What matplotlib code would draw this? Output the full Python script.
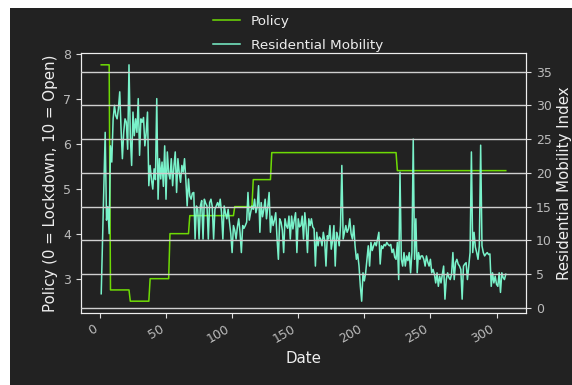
import matplotlib
matplotlib.use('agg')
import matplotlib.pyplot as plt
import numpy as np
from matplotlib.patches import Rectangle

BG = '#222222'

# policy is a step series: (first day of level, level)
policy_change_days = [1, 8, 23, 38, 53, 68, 102, 116, 130, 225]
policy_levels = [7.75, 2.75, 2.5, 3.0, 4.0, 4.4, 4.6, 5.2, 5.8, 5.4]
last_day = 307

# residential mobility index, one value per day (days 1..307)
mobility = [
    2.1, 10, 18, 26, 13, 15, 11, 24, 21.6, 28,
    30, 28.5, 28, 29.5, 32, 26.5, 22.1, 26, 28, 27.5,
    23.5, 36, 25.5, 21.1, 29, 25.5, 28, 26, 31, 22.6,
    28, 27.5, 28.2, 24, 26, 29, 18.1, 21.1, 19, 17.6,
    20.6, 19, 31, 16.1, 22.1, 19.1, 21.6, 18, 24, 16.1,
    23.1, 20, 19.1, 22.1, 18.1, 21, 23.1, 17.1, 22.1, 20,
    18.6, 21.1, 20.1, 22.1, 19, 15.1, 19.1, 16.6, 16.1, 17,
    17.1, 10.2, 15.1, 14.6, 10.2, 15.1, 15.9, 10.2, 16.1, 15.5,
    15.1, 10.2, 15.6, 16.1, 15, 10.2, 14.6, 15.1, 15.6, 15,
    16.1, 14.1, 10.2, 15.1, 14, 13.2, 14.6, 12.7, 11, 8.2,
    12.2, 11.5, 10.2, 12, 13.2, 11.2, 8.2, 12.2, 11.8, 12.2,
    12.7, 17.1, 13, 14.1, 15.1, 14.6, 16.1, 14.1, 15, 18.1,
    11.2, 15.6, 13.5, 14.6, 16.1, 13.2, 15, 17.1, 11.2, 13.6,
    12.2, 13, 14.1, 10.2, 7.2, 13.2, 12.7, 11.5, 8.2, 13.2,
    12.2, 11.8, 13.6, 10.2, 13.6, 11.7, 13, 14.1, 8.2, 13.2,
    12, 12.2, 13.6, 10.2, 14.1, 12, 8.2, 13.2, 12.2, 13.2,
    12, 11.7, 6.2, 11.2, 9.2, 10.5, 10.2, 9.2, 11.2, 10,
    6.2, 10.7, 10.2, 12.2, 8.7, 10, 12.2, 6.2, 11.2, 10.5,
    9.2, 12.2, 21.1, 10.2, 11.2, 12.2, 11.2, 11.7, 13.2, 11,
    10.2, 12.2, 9.2, 7.2, 8, 6.2, 3.2, 1.0, 5.2, 4,
    5.2, 7.2, 9.2, 6.2, 9.7, 8.5, 9.2, 9.7, 9.2, 10.2,
    11.2, 6.5, 9.2, 8.8, 9.4, 9.2, 9.7, 9.4, 9.2, 9.4,
    8.2, 8.7, 7.5, 7.2, 9.7, 4.2, 20.1, 7.2, 6.2, 8.2,
    6.2, 7.7, 7, 8.2, 5.2, 8.2, 25.0, 7.2, 13.2, 5.2,
    8.2, 7.2, 7.7, 7.7, 7.2, 6.2, 7.7, 6.8, 6.2, 7.2,
    5.2, 5.7, 5, 3.7, 5.2, 3.2, 4.7, 3.7, 5, 6.2,
    1.3, 4.2, 5.2, 4.5, 4.2, 5, 8.2, 4.2, 6.7, 7.2,
    6.5, 6.2, 5.7, 1.3, 6.2, 6.5, 6.7, 4.2, 6.2, 8.2,
    23.1, 8.2, 11.2, 9, 8.2, 7.2, 9.2, 24.1, 9.2, 8.2,
    7.7, 8, 8.2, 7.9, 8, 3.2, 5.2, 3.7, 4.7, 3.5,
    3.2, 5.2, 2.3, 5.2, 4.5, 4.2, 5.0,
]

days = np.arange(1, len(mobility) + 1)
durations = np.diff(policy_change_days + [last_day + 1])
policy = np.repeat(policy_levels, durations)

fig = plt.figure(figsize=(5.72, 3.85), dpi=100)
fig.patch.set_facecolor('white')
# dark panel (the original has a thin white strip on top and left)
fig.patches.append(Rectangle((10 / 572, 0), 562 / 572, 377 / 385,
                             transform=fig.transFigure, facecolor=BG,
                             edgecolor='none', zorder=-1))

ax1 = fig.add_axes([81 / 572, 72 / 385, 445 / 572, 260 / 385])
ax1.set_facecolor(BG)
ax2 = ax1.twinx()

l1, = ax1.plot(days, policy, color='lawngreen', alpha=0.85, lw=1.1, label='Policy')
l2, = ax2.plot(days, mobility, color='aquamarine', alpha=0.95, lw=1.1,
               label='Residential Mobility')

ax2.grid(True, axis='y', color='#d0d0d0', lw=1)
ax2.set_axisbelow(False)

ax1.set_xticks([0, 50, 100, 150, 200, 250, 300])
ax1.set_yticks([3, 4, 5, 6, 7, 8])
ax2.set_yticks([0, 5, 10, 15, 20, 25, 30, 35])

for ax in (ax1, ax2):
    for sp in ax.spines.values():
        sp.set_color('#eeeeee')
    ax.tick_params(color='#dddddd', labelcolor='#bbbbbb', labelsize=9)

plt.setp(ax1.get_xticklabels(), rotation=30, ha='right')

ax1.set_xlabel('Date', color='#eeeeee', fontsize=10.8)
ax1.set_ylabel('Policy (0 = Lockdown, 10 = Open)', color='#eeeeee', fontsize=10.8)
ax2.set_ylabel('Residential Mobility Index', color='#eeeeee', fontsize=10.8)

fig.legend([l1, l2], ['Policy', 'Residential Mobility'], loc='lower center',
           bbox_to_anchor=(298 / 572, 321 / 385), frameon=False,
           fontsize=9.7, labelcolor='#eeeeee', labelspacing=0.8)

fig.savefig('out.png', dpi=100, facecolor=fig.get_facecolor())
